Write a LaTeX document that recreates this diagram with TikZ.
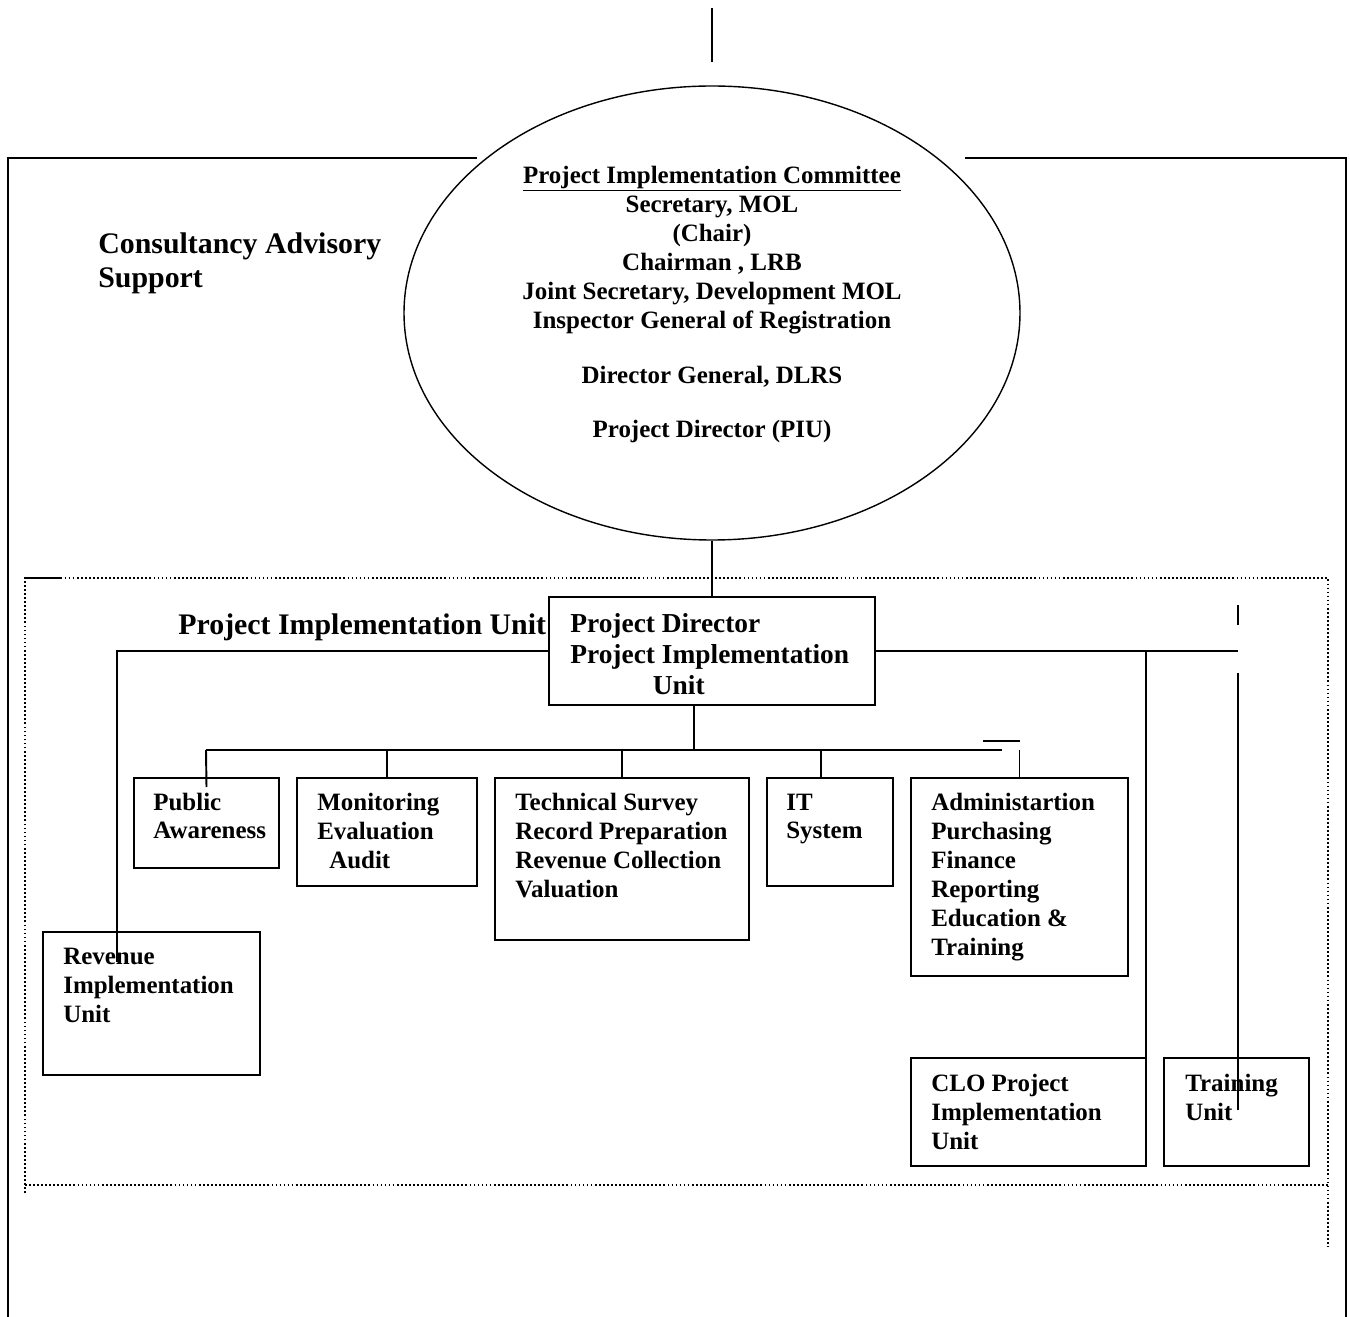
\documentclass[tikz,border=0pt]{standalone}
\usepackage{fontspec}
\setmainfont{Liberation Serif}
\usetikzlibrary{calc, shapes.geometric}

% one unit of the picture is one pixel of the page
\def\pxw{0.02cm}
\newcommand{\bigfont}{\bfseries\fontsize{17pt}{19.9pt}\selectfont}
\newcommand{\headfont}{\bfseries\fontsize{15.6pt}{17.9pt}\selectfont}
\newcommand{\smallfont}{\bfseries\fontsize{14.2pt}{16.5pt}\selectfont}

\tikzset{
  unitbox/.style 2 args={draw, rectangle, anchor=north west, inner sep=0pt,
    outer sep=0pt, line width=1.1pt, minimum width=#1*\pxw,
    minimum height=#2*\pxw},
  % texts sit on the baseline of their last line
  boxtext/.style={anchor=base west, inner sep=0pt, align=left, font=\smallfont},
  link/.style={line width=1.1pt},
  frame/.style={line width=1.2pt},
  dotframe/.style={line width=1pt, dash pattern=on 1pt off 1.3pt}
}

\begin{document}
\begin{tikzpicture}[x=0.02cm, y=-0.02cm]
\useasboundingbox (0,0) rectangle (1350,1317);
% Free ends of the lines that stop short
\coordinate (topa) at (712,8);
\coordinate (topb) at (712,62);
\coordinate (bus) at (694,750);
\coordinate (busl) at (206,750);
\coordinate (busr) at (1002,750);
\coordinate (revend) at (117,962);
\coordinate (cloend) at (1146,1103);
\coordinate (trnend) at (1238,1110);
% Committee ellipse and its members
\node [draw, ellipse, line width=0.8pt, inner sep=0pt, minimum width=616*\pxw,
  minimum height=454*\pxw] (pic) at (712,313) {};
\node [anchor=base, inner sep=0pt, align=center, font=\smallfont] (pictext)
  at (712,438) {\underline{Project Implementation Committee}\\
  Secretary, MOL\\(Chair)\\Chairman , LRB\\Joint Secretary, Development MOL\\
  Inspector General of Registration\\[14.8pt]Director General, DLRS\\[14.8pt]
  Project Director (PIU)};
\draw [link] (topa) -- (topb);
% Outer frame, open at the bottom
\draw [frame] (477,158) -- (8,158) -- (8,1317);
\draw [frame] (965,158) -- (1346,158) -- (1346,1317);
\node [anchor=base west, inner sep=0pt, align=left, font=\bigfont] (cas)
  at (98,288) {Consultancy Advisory\\Support};
% Dotted frame of the unit
\draw [dotframe] (25,1193) -- (25,578) -- (1328,578) -- (1328,1247);
\draw [dotframe] (25,1185) -- (1328,1185);
\draw [link] (25,578) -- (62,578);
\node [anchor=base west, inner sep=0pt, font=\bigfont] (piu) at (178,635)
  {Project Implementation Unit};
% Project director
\node [unitbox={326}{108}] (pd) at (549,597) {};
\node [boxtext, font=\headfont] (pdtext) at ($(pd.north west)+(21,98)$)
  {Project Director\\Project Implementation\\\hspace*{47pt}Unit};
\draw [link] (pic.south) -- (pd.north);
% Sections
\node [unitbox={145}{90}] (pa) at (134,778) {};
\node [boxtext] (patext) at ($(pa.north west)+(19,61)$) {Public\\Awareness};
\node [unitbox={180}{108}] (mea) at (297,778) {};
\node [boxtext] (meatext) at ($(mea.north west)+(20,90)$)
  {Monitoring\\Evaluation\\\hspace*{6.8pt}Audit};
\node [unitbox={254}{162}] (tech) at (495,778) {};
\node [boxtext] (techtext) at ($(tech.north west)+(20,119)$)
  {Technical Survey\\Record Preparation\\Revenue Collection\\Valuation};
\node [unitbox={126}{108}] (it) at (767,778) {};
\node [boxtext] (ittext) at ($(it.north west)+(19,61)$) {IT\\System};
\node [unitbox={217}{198}] (adm) at (911,778) {};
\node [boxtext] (admtext) at ($(adm.north west)+(20,177)$)
  {Administartion\\Purchasing\\Finance\\Reporting\\Education \&\\Training};
\node [unitbox={217}{143}] (riu) at (43,932) {};
\node [boxtext] (riutext) at ($(riu.north west)+(20,90)$)
  {Revenue\\Implementation\\Unit};
\node [unitbox={235}{108}] (clo) at (911,1058) {};
\node [boxtext] (clotext) at ($(clo.north west)+(20,91)$)
  {CLO Project\\Implementation\\Unit};
\node [unitbox={145}{108}] (tu) at (1164,1058) {};
\node [boxtext] (tutext) at ($(tu.north west)+(21,62)$) {Training\\Unit};
% Bus under the director
\draw [link] (pd.south -| bus) -- (bus);
\draw [link] (busl) -- (busr);
\draw [link] (983,741) -- (1020,741);
\draw [link] (busl) -- ($(pa.north)+(0,9)$);
\draw [link] (mea.north |- bus) -- (mea.north);
\draw [link] (tech.north |- bus) -- (tech.north);
\draw [link] ($(it.north |- bus)+(-9,0)$) -- ($(it.north)+(-9,0)$);
\draw [link] (adm.north |- bus) -- (adm.north);
% Side branches
\draw [link] (pd.west) -| (revend);
\draw [link] (pd.east) -- (pd.east -| trnend);
\draw [link] (pd.east -| cloend) -- (cloend);
\draw [link] (1238,605) -- (1238,625);
\draw [link] (1238,673) -- (trnend);
\end{tikzpicture}
\end{document}
